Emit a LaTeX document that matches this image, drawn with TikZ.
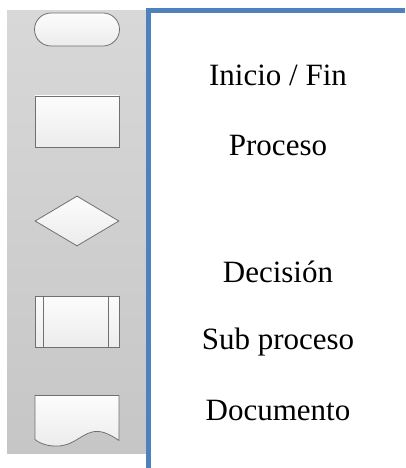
\documentclass[tikz,border=0pt]{standalone}
\usepackage{fontspec}
\setmainfont{Liberation Serif}
\usetikzlibrary{shapes.geometric,shapes.misc}
\definecolor{panelTop}{HTML}{D8D8D8}
\definecolor{panelBot}{HTML}{C6C6C6}
\definecolor{symTop}{HTML}{FCFCFC}
\definecolor{symBot}{HTML}{ECECEC}
\definecolor{symEdge}{HTML}{707070}
\definecolor{frameBlue}{HTML}{4F81BD}
\tikzset{
  sym/.style={draw=symEdge, line width=0.8pt, top color=symTop, bottom color=symBot,
    inner sep=0pt, minimum width=84pt, minimum height=51pt},
  legend/.style={anchor=base, font=\fontsize{31}{36}\selectfont, inner sep=0pt}
}
\begin{document}
\begin{tikzpicture}[x=1pt, y=-1pt]
  \useasboundingbox (0,0) rectangle (405,468);
  % grey symbol strip
  \shade[top color=panelTop, bottom color=panelBot] (7,11) rectangle (146,453);
  % blue frame edge
  \draw[frameBlue, line width=5pt] (148.5,468) -- (148.5,11) -- (405,11);
  % symbols
  \node[sym, rounded rectangle, minimum width=85pt, minimum height=33pt] (term) at (77,29.5) {};
  \node[sym] (proc) at (77,121.5) {};
  \node[sym, diamond, minimum width=84pt, minimum height=50pt] (dec) at (77,221) {};
  \node[sym] (sub) at (77,321.5) {};
  \draw[symEdge, line width=0.8pt] ([xshift=9pt]sub.north west) -- ([xshift=9pt]sub.south west);
  \draw[symEdge, line width=0.8pt] ([xshift=-11pt]sub.north east) -- ([xshift=-11pt]sub.south east);
  \coordinate (docNW) at (35,395.5);
  \coordinate (docNE) at (119,395.5);
  \coordinate (docSE) at (119,440.5);
  \coordinate (docSW) at (35,439.5);
  \draw[symEdge, line width=0.8pt, top color=symTop, bottom color=symBot]
    (docSW) -- (docNW) -- (docNE) -- (docSE)
    .. controls (108,433) and (100,430) .. (92,432)
    .. controls (80,435) and (72,447) .. (55,446)
    .. controls (45,446) and (38,442) .. (docSW) -- cycle;
  % labels
  \node[legend] (lterm) at (278,86) {Inicio / Fin};
  \node[legend] (lproc) at (278,155) {Proceso};
  \node[legend] (ldec) at (278,282) {Decisión};
  \node[legend] (lsub) at (278,349) {Sub proceso};
  \node[legend] (ldoc) at (278,420) {Documento};
\end{tikzpicture}
\end{document}
